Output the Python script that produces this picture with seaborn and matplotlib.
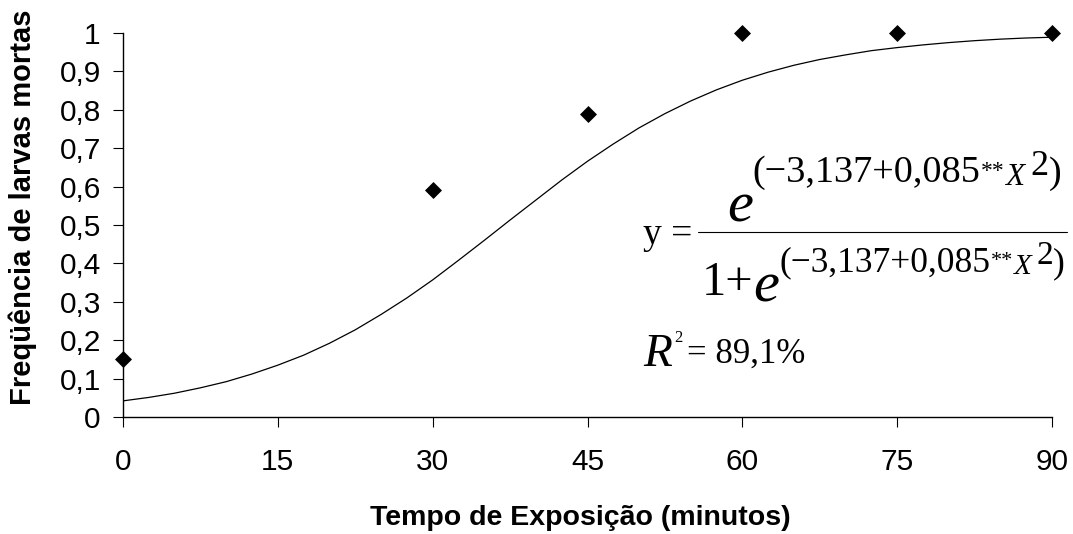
import matplotlib
matplotlib.use("Agg")
import matplotlib.pyplot as plt
from matplotlib.transforms import IdentityTransform
from matplotlib.lines import Line2D
import seaborn as sns

# ---- data ----
tempo = [0, 30, 45, 60, 75, 90]
freq_obs = [0.15, 0.59, 0.79, 1.0, 1.0, 1.0]

curve_x = [0, 2.5, 5, 7.5, 10, 12.5, 15, 17.5, 20, 22.5, 25, 27.5, 30, 32.5, 35, 37.5,
           40, 42.5, 45, 47.5, 50, 52.5, 55, 57.5, 60, 62.5, 65, 67.5, 70, 72.5, 75,
           77.5, 80, 82.5, 85, 87.5, 90]
curve_y = [0.042, 0.051, 0.062, 0.076, 0.092, 0.112, 0.135, 0.161, 0.192, 0.227,
           0.267, 0.310, 0.357, 0.408, 0.460, 0.513, 0.565, 0.617, 0.666, 0.711,
           0.753, 0.790, 0.823, 0.852, 0.877, 0.898, 0.916, 0.931, 0.943, 0.954,
           0.962, 0.969, 0.975, 0.980, 0.984, 0.987, 0.989]

x_ticks = [0, 15, 30, 45, 60, 75, 90]
y_ticks = [0, 0.1, 0.2, 0.3, 0.4, 0.5, 0.6, 0.7, 0.8, 0.9, 1.0]
y_tick_labels = ["0", "0,1", "0,2", "0,3", "0,4", "0,5", "0,6", "0,7", "0,8", "0,9", "1"]

x_label = "Tempo de Exposição (minutos)"
y_label = "Freqüência de larvas mortas"

# ---- figure ----
sns.set_theme(style="white")
plt.rcParams['font.family'] = ['Liberation Sans', 'DejaVu Sans']

W, H = 1073, 534
fig = plt.figure(figsize=(W / 100, H / 100), dpi=100)
ax = fig.add_axes([123 / W, 1 - 417 / H, (1052 - 123) / W, (417 - 33) / H])

sns.lineplot(x=curve_x, y=curve_y, ax=ax, color='black', linewidth=0.9)
sns.scatterplot(x=tempo, y=freq_obs, ax=ax, marker='D', s=75, color='black',
                edgecolor='black', linewidth=0, clip_on=False, zorder=5)

ax.set_xlim(0, 90)
ax.set_ylim(0, 1)
ax.set_xticks(x_ticks)
ax.set_xticklabels([str(v) for v in x_ticks])
ax.set_yticks(y_ticks)
ax.set_yticklabels(y_tick_labels)

sns.despine(ax=ax)
for s in ['left', 'bottom']:
    ax.spines[s].set_color('black')
    ax.spines[s].set_linewidth(1.0)

ax.tick_params(axis='both', which='major', bottom=True, left=True, direction='out',
               length=7, width=0.8, color='black', labelsize=21.5, labelcolor='black')
ax.tick_params(axis='x', pad=15)
ax.tick_params(axis='y', pad=9)

ax.set_xlabel(x_label, fontsize=20.5, fontweight='bold', color='black')
ax.set_ylabel(y_label, fontsize=21, fontweight='bold', color='black')
ax.xaxis.set_label_coords(0.492, -0.228)
ax.yaxis.set_label_coords(-0.093, 0.545)

# ---- equation annotation (pixel positions, origin top-left) ----
renderer = fig.canvas.get_renderer()
ident = IdentityTransform()


def chain(x, pieces):
    """pieces: (text, size, style, baseline_y_px, gap_px)"""
    for s, size, style, base, gap in pieces:
        t = fig.text(x + gap, H - base, s, transform=ident, fontsize=size,
                     family='Liberation Serif', style=style, ha='left',
                     va='baseline', color='black')
        x = t.get_window_extent(renderer).x1


chain(643, [("y =", 27, 'normal', 244, 0)])

# numerator
chain(727, [
    ("e", 42, 'italic', 221, 0),
    ("(−3,137+0,085", 27.5, 'normal', 182, 0),
    ("**", 17, 'normal', 177, 0),
    ("X", 22.5, 'italic', 185, 1),
    ("2", 26, 'normal', 175, 6),
    (")", 27.5, 'normal', 183, 0),
])

# fraction bar
fig.add_artist(Line2D([698 / W, 1067 / W], [1 - 232 / H, 1 - 232 / H],
                      transform=fig.transFigure, color='black', linewidth=0.8))

# denominator
chain(702, [
    ("1+", 35, 'normal', 295, 0),
    ("e", 42, 'italic', 302, 0),
    ("(−3,137+0,085", 25.5, 'normal', 271, 0),
    ("**", 16, 'normal', 266, 0),
    ("X", 21, 'italic', 274, 1),
    ("2", 24, 'normal', 264, 5),
    (")", 25.5, 'normal', 272, 0),
])

# R^2
chain(643, [
    ("R", 34, 'italic', 366, 0),
    ("2", 12, 'normal', 342, 2),
    ("= 89,1%", 25, 'normal', 363, 5),
])

fig.savefig("out.png", dpi=100)
